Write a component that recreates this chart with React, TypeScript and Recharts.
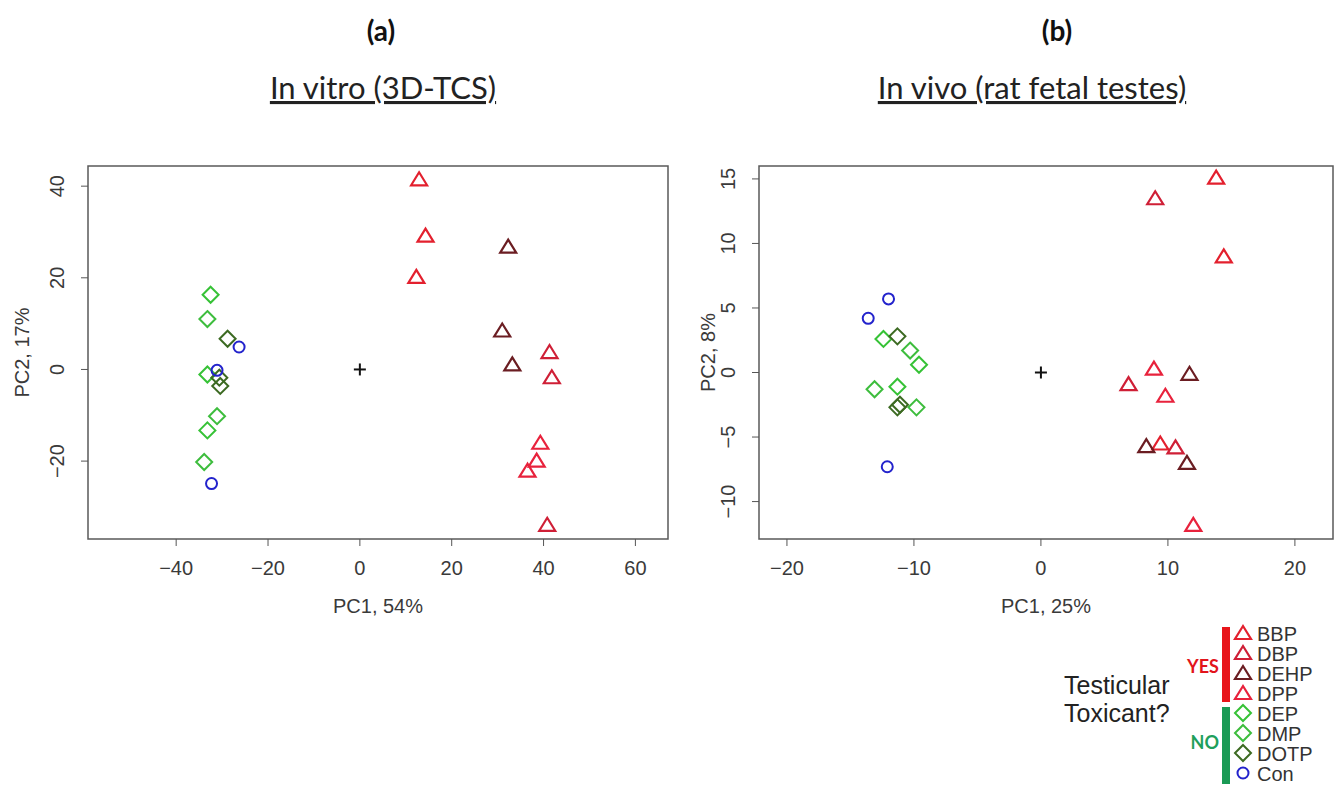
import React from "react";
import { ScatterChart, Scatter, XAxis, YAxis, ReferenceArea } from "recharts";

// groups in legend order
const GROUPS = ["BBP", "DBP", "DEHP", "DPP", "DEP", "DMP", "DOTP", "Con"];
const TOXIC = ["BBP", "DBP", "DEHP", "DPP"];
const NON_TOXIC = ["DEP", "DMP", "DOTP", "Con"];

// (a) in vitro (3D-TCS) scores, [PC1, PC2]
const VITRO_BBP = [[12.9, 41.5], [14.3, 29.2], [12.3, 20.2]];
const VITRO_DBP = [[41.3, 3.8], [41.8, -1.7], [40.8, -33.9]];
const VITRO_DEHP = [[32.3, 26.8], [31.0, 8.5], [33.2, 1.1]];
const VITRO_DPP = [[39.3, -16.0], [38.5, -19.9], [36.5, -22.1]];
const VITRO_DEP = [[-32.5, 16.3], [-33.2, -1.1], [-33.2, -13.3]];
const VITRO_DMP = [[-33.2, 11.0], [-31.1, -10.2], [-33.9, -20.2]];
const VITRO_DOTP = [[-28.8, 6.7], [-30.6, -1.8], [-30.4, -3.6]];
const VITRO_CON = [[-26.3, 4.9], [-31.1, -0.2], [-32.3, -24.9]];

// (b) in vivo (rat fetal testes) scores
const VIVO_BBP = [[13.8, 15.1], [14.4, 9.0], [9.4, -5.5]];
const VIVO_DBP = [[9.0, 13.5], [6.9, -0.9], [10.6, -5.8]];
const VIVO_DEHP = [[11.7, -0.1], [8.3, -5.7], [11.5, -7.0]];
const VIVO_DPP = [[8.9, 0.3], [9.8, -1.8], [12.0, -11.8]];
const VIVO_DEP = [[-12.4, 2.6], [-9.6, 0.6], [-11.3, -1.1]];
const VIVO_DMP = [[-10.3, 1.7], [-13.1, -1.3], [-9.8, -2.7]];
const VIVO_DOTP = [[-11.3, 2.8], [-11.3, -2.7], [-11.1, -2.5]];
const VIVO_CON = [[-12.0, 5.7], [-13.6, 4.2], [-12.1, -7.3]];

const VITRO_X_TICKS = [-40, -20, 0, 20, 40, 60];
const VITRO_Y_TICKS = [-20, 0, 20, 40];
const VIVO_X_TICKS = [-20, -10, 0, 10, 20];
const VIVO_Y_TICKS = [-10, -5, 0, 5, 10, 15];

const ORIGIN = [[0, 0]];

const COLORS: Record<string, string> = {
  BBP: "#e3202e",
  DBP: "#cf1f36",
  DEHP: "#6b1d22",
  DPP: "#e8223c",
  DEP: "#36c236",
  DMP: "#3dbd3d",
  DOTP: "#3c6a22",
  Con: "#2323cc",
};

const SHAPES: Record<string, string> = {
  BBP: "tri", DBP: "tri", DEHP: "tri", DPP: "tri",
  DEP: "dia", DMP: "dia", DOTP: "dia", Con: "circ",
};

const ARIAL = "'Liberation Sans', Arial, sans-serif";
const CALIBRI = "Lato, 'Open Sans', sans-serif";
const TXT = "#3a3a3a";

const toPts = (arr: number[][]) => arr.map(([x, y]) => ({ x, y }));
const fmt = (v: number) => (v < 0 ? "\u2212" + Math.abs(v) : String(v));

function Marker({ kind, cx, cy, color }: { kind: string; cx: number; cy: number; color: string }) {
  if (kind === "tri") {
    return (
      <polygon
        points={`${cx},${cy - 7} ${cx - 8},${cy + 6} ${cx + 8},${cy + 6}`}
        fill="none" stroke={color} strokeWidth={2.2}
      />
    );
  }
  if (kind === "dia") {
    return (
      <polygon
        points={`${cx},${cy - 8} ${cx + 8},${cy} ${cx},${cy + 8} ${cx - 8},${cy}`}
        fill="none" stroke={color} strokeWidth={2}
      />
    );
  }
  return <circle cx={cx} cy={cy} r={5.5} fill="none" stroke={color} strokeWidth={2} />;
}

function Plus({ cx, cy }: any) {
  return (
    <g stroke="#111" strokeWidth={2}>
      <line x1={cx - 6} x2={cx + 6} y1={cy} y2={cy} />
      <line x1={cx} x2={cx} y1={cy - 6} y2={cy + 6} />
    </g>
  );
}

// R draws y tick labels parallel to the axis
function YTick({ x, y, payload }: any) {
  const tx = x - 15;
  return (
    <text
      x={tx} y={y} transform={`rotate(-90 ${tx} ${y})`}
      textAnchor="middle" fill={TXT} fontSize={20} fontFamily={ARIAL}
    >
      {fmt(payload.value)}
    </text>
  );
}

interface PanelProps {
  left: number;
  width: number;
  yAxisWidth: number;
  marginRight: number;
  titleOffset: number;
  xDomain: [number, number];
  yDomain: [number, number];
  xTicks: number[];
  yTicks: number[];
  xLabel: string;
  yLabel: string;
  series: Record<string, number[][]>;
}

function Panel(p: PanelProps) {
  return (
    <div style={{ position: "absolute", left: p.left, top: 0 }}>
      <ScatterChart
        width={p.width}
        height={792}
        margin={{ top: 166, right: p.marginRight, bottom: 173, left: 0 }}
      >
        <XAxis
          type="number"
          dataKey="x"
          domain={p.xDomain}
          ticks={p.xTicks}
          interval={0}
          allowDataOverflow
          axisLine={false}
          tickSize={7}
          tickMargin={15}
          height={80}
          stroke="#555"
          tickFormatter={fmt}
          tick={{ fill: TXT, fontSize: 20, fontFamily: ARIAL }}
          label={{
            value: p.xLabel,
            position: "insideBottom",
            offset: 6,
            fill: TXT,
            fontSize: 20,
            fontFamily: ARIAL,
          }}
        />
        <YAxis
          type="number"
          dataKey="y"
          domain={p.yDomain}
          ticks={p.yTicks}
          interval={0}
          allowDataOverflow
          axisLine={false}
          tickSize={7}
          width={p.yAxisWidth}
          stroke="#555"
          tick={<YTick />}
          label={(lp: any) => {
            const vb = lp.viewBox || { x: 0, y: 166, height: 373 };
            const cx = vb.x + p.titleOffset;
            const cy = vb.y + vb.height / 2;
            return (
              <text
                x={cx} y={cy} transform={`rotate(-90 ${cx} ${cy})`}
                textAnchor="middle" dominantBaseline="central"
                fill={TXT} fontSize={20} fontFamily={ARIAL}
              >
                {p.yLabel}
              </text>
            );
          }}
        />
        <ReferenceArea
          x1={p.xDomain[0]} x2={p.xDomain[1]} y1={p.yDomain[0]} y2={p.yDomain[1]}
          fill="none" fillOpacity={0} stroke="#5a5a5a" strokeWidth={1.5} ifOverflow="visible"
        />
        {GROUPS.map((g) => (
          <Scatter
            key={g}
            name={g}
            data={toPts(p.series[g])}
            isAnimationActive={false}
            shape={(sp: any) => <Marker kind={SHAPES[g]} cx={sp.cx} cy={sp.cy} color={COLORS[g]} />}
          />
        ))}
        <Scatter data={toPts(ORIGIN)} isAnimationActive={false} shape={(sp: any) => <Plus cx={sp.cx} cy={sp.cy} />} />
      </ScatterChart>
    </div>
  );
}

function Legend() {
  const rowY = (i: number) => 633 + i * 20;
  return (
    <svg width={1340} height={792} style={{ position: "absolute", left: 0, top: 0, pointerEvents: "none" }}>
      <text x={381} y={41} textAnchor="middle" fontFamily={CALIBRI} fontWeight={700} fontSize={28} fill="#111">(a)</text>
      <text x={1057} y={41} textAnchor="middle" fontFamily={CALIBRI} fontWeight={700} fontSize={28} fill="#111">(b)</text>
      <text x={383} y={99} textAnchor="middle" fontFamily={CALIBRI} fontSize={31} fill="#222" style={{ textDecoration: "underline" }}>
        In vitro (3D-TCS)
      </text>
      <text x={1032} y={99} textAnchor="middle" fontFamily={CALIBRI} fontSize={31} fill="#222" style={{ textDecoration: "underline" }}>
        In vivo (rat fetal testes)
      </text>

      <text x={1064} y={694} fontFamily={ARIAL} fontSize={25} fill="#222">Testicular</text>
      <text x={1064} y={722} fontFamily={ARIAL} fontSize={25} fill="#222">Toxicant?</text>

      <rect x={1222} y={627} width={8} height={75} fill="#e8151b" />
      <rect x={1222} y={707} width={8} height={77} fill="#1a9a55" />
      <text x={1219} y={673} textAnchor="end" fontFamily={CALIBRI} fontWeight={700} fontSize={18} fill="#e2141c">YES</text>
      <text x={1219} y={749} textAnchor="end" fontFamily={CALIBRI} fontWeight={700} fontSize={18} fill="#1f9f5c">NO</text>

      {[...TOXIC, ...NON_TOXIC].map((g, i) => (
        <g key={g}>
          <Marker kind={SHAPES[g]} cx={1243} cy={rowY(i)} color={COLORS[g]} />
          <text x={1257} y={rowY(i) + 7.5} fontFamily={ARIAL} fontSize={20} fill="#333">{g}</text>
        </g>
      ))}
    </svg>
  );
}

export default function App() {
  const vitro = {
    BBP: VITRO_BBP, DBP: VITRO_DBP, DEHP: VITRO_DEHP, DPP: VITRO_DPP,
    DEP: VITRO_DEP, DMP: VITRO_DMP, DOTP: VITRO_DOTP, Con: VITRO_CON,
  };
  const vivo = {
    BBP: VIVO_BBP, DBP: VIVO_DBP, DEHP: VIVO_DEHP, DPP: VIVO_DPP,
    DEP: VIVO_DEP, DMP: VIVO_DMP, DOTP: VIVO_DOTP, Con: VIVO_CON,
  };
  return (
    <div style={{ position: "relative", width: 1340, height: 792, background: "#fff", overflow: "hidden" }}>
      <style>{"body{margin:0}"}</style>
      <Panel
        left={0} width={690} yAxisWidth={88} marginRight={22} titleOffset={22}
        xDomain={[-59.2, 67.1]} yDomain={[-37.0, 44.4]}
        xTicks={VITRO_X_TICKS} yTicks={VITRO_Y_TICKS}
        xLabel="PC1, 54%" yLabel="PC2, 17%" series={vitro}
      />
      <Panel
        left={670} width={670} yAxisWidth={89} marginRight={7} titleOffset={38}
        xDomain={[-22.2, 23.0]} yDomain={[-12.9, 16.0]}
        xTicks={VIVO_X_TICKS} yTicks={VIVO_Y_TICKS}
        xLabel="PC1, 25%" yLabel="PC2, 8%" series={vivo}
      />
      <Legend />
    </div>
  );
}
